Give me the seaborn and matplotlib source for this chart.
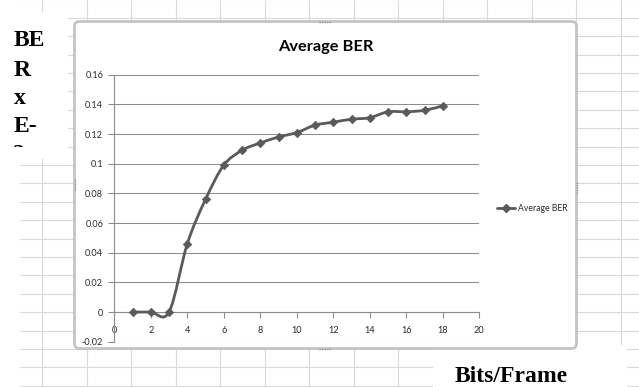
import numpy as np
import matplotlib
matplotlib.use("Agg")
import matplotlib.pyplot as plt
import seaborn as sns
import pandas as pd
from matplotlib.patches import Rectangle, FancyBboxPatch, PathPatch
from matplotlib.path import Path
from matplotlib.lines import Line2D
from matplotlib.ticker import FixedLocator, FixedFormatter

# ---------------- data ----------------
bits = [1, 2, 3, 4, 5, 6, 7, 8, 9, 10, 11, 12, 13, 14, 15, 16, 17, 18]
ber = [0.0, 0.0, 0.0, 0.046, 0.076, 0.099, 0.109, 0.114, 0.118, 0.121,
       0.126, 0.128, 0.130, 0.131, 0.135, 0.135, 0.136, 0.139]
yticks = [-0.02, 0, 0.02, 0.04, 0.06, 0.08, 0.1, 0.12, 0.14, 0.16]
ytick_labels = ["-0.02", "0", "0.02", "0.04", "0.06", "0.08", "0.1", "0.12", "0.14", "0.16"]
xticks = [0, 2, 4, 6, 8, 10, 12, 14, 16, 18, 20]
xtick_labels = ["0", "2", "4", "6", "8", "10", "12", "14", "16", "18", "20"]
series_name = "Average BER"
title = "Average BER"
ylabel_lines = ["BE", "R", "x", "E-", "2"]
xlabel = "Bits/Frame"

df = pd.DataFrame({"bits": bits, "ber": ber})

# ---------------- style ----------------
sns.set_theme(style="white")
plt.rcParams["font.family"] = ["Lato", "DejaVu Sans"]

W, H = 639, 387
fig = plt.figure(figsize=(W / 100, H / 100), dpi=100)
fig.patch.set_facecolor("white")

# background "spreadsheet" layer in pixel coordinates
bg = fig.add_axes([0, 0, 1, 1])
bg.set_xlim(0, W)
bg.set_ylim(H, 0)
bg.axis("off")
bg.set_zorder(0)

cell_col = "#d9d9d9"
for xv in np.arange(42, W, 44.5):
    bg.vlines(xv, 0, H, color=cell_col, lw=0.8)
for yv in np.arange(17.7 - 18.4, H + 1, 18.4):
    bg.hlines(yv, 20, W, color=cell_col, lw=0.8)

# white text boxes over the sheet
bg.add_patch(Rectangle((0, 12), 68, 146, fc="white", ec="none", zorder=2))
bg.add_patch(Rectangle((433, 345), 194, 42, fc="white", ec="none", zorder=2))

# chart area
bg.add_patch(FancyBboxPatch((74.5, 21.5), 502, 327,
                            boxstyle="round,pad=0,rounding_size=5",
                            fc="white", ec="#c4c4c4", lw=2.0, zorder=2))
# small selection handles
for (hx, hy, horiz) in [(325, 21.5, True), (325, 348.5, True), (74.5, 185, False), (576.5, 188, False)]:
    if horiz:
        bg.plot([hx - 6, hx + 6], [hy, hy], color="#8a8a8a", lw=0.9, ls=(0, (1, 1)), zorder=3)
    else:
        bg.plot([hx, hx], [hy - 6, hy + 6], color="#8a8a8a", lw=0.9, ls=(0, (1, 1)), zorder=3)

# left wrapped label (clipped at the bottom like the original text box)
baselines = [46, 75.5, 103.5, 131.7, 160]
for txt, yb in zip(ylabel_lines, baselines):
    bg.text(13.5, yb, txt, family="Liberation Serif", weight="bold", fontsize=17,
            ha="left", va="baseline", color="black", zorder=3)
bg.add_patch(Rectangle((0, 147), 68, 16, fc="white", ec="none", zorder=4))
bg.add_patch(Rectangle((0, 158), 20, 40, fc="white", ec="none", zorder=4))
bg.hlines(17.7 + 18.4 * 8, 20, 68, color=cell_col, lw=0.8, zorder=5)
bg.vlines(42, 158, 163, color=cell_col, lw=0.8, zorder=5)

# bottom right label
bg.text(455, 381.5, xlabel, family="Liberation Serif", weight="bold", fontsize=17,
        ha="left", va="baseline", color="black", zorder=3)

# title
bg.text(326, 46.5, title, fontsize=11.8, weight="bold", ha="center", va="center",
        color="black", zorder=3)

# ---------------- main axes ----------------
x0, x1 = 114.3, 479.3
ytop, ybot = 74.7, 341.7
ax = fig.add_axes([x0 / W, 1 - ybot / H, (x1 - x0) / W, (ybot - ytop) / H])
ax.set_zorder(1)
ax.set_facecolor("none")
ax.set_xlim(0, 20)
ax.set_ylim(-0.02, 0.16)

grid_col = "#8c8c8c"
ax.yaxis.set_major_locator(FixedLocator(yticks))
ax.yaxis.set_major_formatter(FixedFormatter(ytick_labels))
ax.xaxis.set_major_locator(FixedLocator(xticks))
ax.xaxis.set_major_formatter(FixedFormatter(xtick_labels))
ax.grid(axis="y", color=grid_col, lw=0.75)
ax.grid(axis="x", visible=False)
for s in ["top", "right"]:
    ax.spines[s].set_visible(False)
ax.spines["left"].set_color(grid_col)
ax.spines["left"].set_linewidth(0.8)
ax.spines["bottom"].set_position(("data", 0))
ax.spines["bottom"].set_color(grid_col)
ax.spines["bottom"].set_linewidth(0.8)
ax.tick_params(axis="y", direction="out", length=4, width=0.75, color=grid_col,
               pad=4, labelsize=6.6, labelcolor="#2a2a2a", left=True)
ax.tick_params(axis="x", direction="out", length=4, width=0.75, color=grid_col,
               pad=6, labelsize=6.6, labelcolor="#2a2a2a", bottom=True)
for lab in ax.get_yticklabels() + ax.get_xticklabels():
    lab.set_family(["Lato", "DejaVu Sans"])

line_col = "#5a5a5a"

# smoothed line (Catmull-Rom style Bezier through the data points, as Excel does)
px = np.asarray(bits, float)
py = np.asarray(ber, float)
n = len(px)
verts = [(px[0], py[0])]
codes = [Path.MOVETO]
for i in range(n - 1):
    im1 = max(i - 1, 0)
    ip2 = min(i + 2, n - 1)
    c1 = (px[i] + (px[i + 1] - px[im1]) / 6, py[i] + (py[i + 1] - py[im1]) / 6)
    c2 = (px[i + 1] - (px[ip2] - px[i]) / 6, py[i + 1] - (py[ip2] - py[i]) / 6)
    verts += [c1, c2, (px[i + 1], py[i + 1])]
    codes += [Path.CURVE4] * 3
ax.add_patch(PathPatch(Path(verts, codes), fill=False, ec=line_col, lw=2.0,
                       capstyle="round", joinstyle="round", zorder=3))

sns.scatterplot(data=df, x="bits", y="ber", marker="D", s=18, color=line_col,
                edgecolor=line_col, linewidth=0.6, ax=ax, zorder=4, legend=False)
ax.set_xlabel("")
ax.set_ylabel("")

# legend
handle = Line2D([], [], color=line_col, lw=2.0, marker="D", markersize=4.0)
ax.legend(handles=[handle], labels=[series_name], loc="center left",
          bbox_to_anchor=(497 / W, 1 - 208.5 / H), bbox_transform=fig.transFigure,
          frameon=False, fontsize=6.2, handlelength=2.1, handletextpad=0.3,
          borderpad=0, borderaxespad=0, labelcolor="#2a2a2a")

fig.savefig("out.png", dpi=100, facecolor="white")
